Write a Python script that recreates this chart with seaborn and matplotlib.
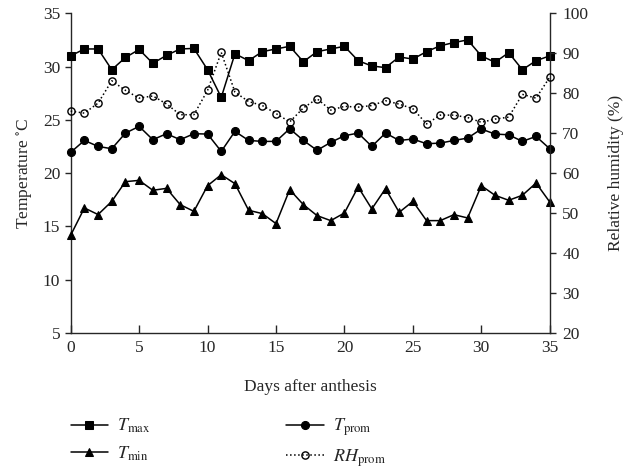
import matplotlib
matplotlib.use("Agg")
import matplotlib.pyplot as plt
import seaborn as sns

# valores
days = list(range(36))
t_max = [31.0, 31.65, 31.65, 29.7, 30.85, 31.6, 30.3, 31.05, 31.65, 31.7,
         29.7, 27.1, 31.2, 30.55, 31.4, 31.65, 31.9, 30.45, 31.4, 31.65,
         31.9, 30.55, 30.05, 29.9, 30.9, 30.7, 31.4, 31.95, 32.25, 32.5,
         31.0, 30.4, 31.3, 29.7, 30.55, 31.0]
t_min = [14.16, 16.72, 16.1, 17.34, 19.19, 19.31, 18.38, 18.56, 17.03, 16.4,
         18.81, 19.84, 19.0, 16.5, 16.19, 15.25, 18.44, 17.03, 16.0, 15.53,
         16.25, 18.69, 16.63, 18.53, 16.31, 17.34, 15.53, 15.53, 16.09, 15.78,
         18.81, 17.91, 17.44, 17.91, 19.06, 17.28]
t_prom = [21.94, 23.06, 22.5, 22.28, 23.75, 24.38, 23.13, 23.69, 23.13, 23.69,
          23.66, 22.03, 23.91, 23.06, 22.97, 22.97, 24.16, 23.06, 22.13, 22.88,
          23.5, 23.75, 22.5, 23.75, 23.06, 23.19, 22.75, 22.81, 23.06, 23.28,
          24.13, 23.66, 23.59, 22.97, 23.44, 22.28]
rh_prom = [75.5, 75.0, 77.5, 83.1, 80.7, 78.75, 79.3, 77.3, 74.6, 74.6,
           80.7, 90.2, 80.25, 77.9, 76.9, 74.9, 72.8, 76.3, 78.6, 75.75,
           76.7, 76.5, 76.9, 78.1, 77.25, 76.1, 72.3, 74.5, 74.5, 73.9,
           72.7, 73.5, 74.0, 79.7, 78.75, 84.0]

sns.set_style("ticks")
plt.rcParams['font.family'] = ['Liberation Serif', 'DejaVu Serif']
plt.rcParams['mathtext.fontset'] = 'stix'

fig = plt.figure(figsize=(6.24, 4.71), dpi=100)
ax = fig.add_axes([0.1133, 0.2935, 0.7677, 0.6783])
ax2 = ax.twinx()

kw = dict(color='black', linewidth=1.1, legend=False)
sns.lineplot(x=days, y=t_max, ax=ax, marker='s', markersize=5.6,
             markeredgecolor='black', clip_on=False, zorder=4, **kw)
sns.lineplot(x=days, y=t_min, ax=ax, marker='^', markersize=5.2,
             markeredgecolor='black', clip_on=False, zorder=4, **kw)
sns.lineplot(x=days, y=t_prom, ax=ax, marker='o', markersize=5.8,
             markeredgecolor='black', clip_on=False, zorder=4, **kw)
sns.lineplot(x=days, y=rh_prom, ax=ax2, marker='o', markersize=5.2,
             markerfacecolor='none', markeredgecolor='black',
             markeredgewidth=1.0, linestyle=':', clip_on=False, zorder=3, **kw)

ax.set_xlim(0, 35)
ax.set_ylim(5, 35)
ax2.set_ylim(20, 100)
ax.set_xticks(range(0, 36, 5))
ax.set_yticks(range(5, 36, 5))
ax2.set_yticks(range(20, 101, 10))

for a in (ax, ax2):
    a.spines['top'].set_visible(False)
    for s in a.spines.values():
        s.set_linewidth(1.0)
ax.spines['right'].set_visible(False)
ax2.spines['left'].set_visible(False)
ax2.spines['bottom'].set_visible(False)

ax.tick_params(axis='x', direction='in', length=5.5, width=1, labelsize=12.5, pad=5)
ax.tick_params(axis='y', direction='out', length=4, width=1, labelsize=12.5)
ax2.tick_params(axis='y', direction='out', length=4, width=1, labelsize=12.5, pad=5)

ax.set_xlabel('Days after anthesis', fontsize=12.5, labelpad=17)
ax.set_ylabel('Temperature $^{\\circ}$C', fontsize=12.5, labelpad=6)
ax2.set_ylabel('Relative humidity (%)', fontsize=12.5, labelpad=14)

handles = [ax.lines[0], ax.lines[1], ax.lines[2], ax2.lines[0]]
labels = [r'$T_{\mathrm{max}}$', r'$T_{\mathrm{min}}$',
          r'$T_{\mathrm{prom}}$', r'$RH_{\mathrm{prom}}$']
fig.legend(handles, labels, ncol=2, loc='upper left',
           bbox_to_anchor=(0.113, 0.115), frameon=False, fontsize=13,
           handlelength=2.1, handletextpad=0.5, columnspacing=7.5,
           labelspacing=0.5, borderaxespad=0, borderpad=0)

fig.savefig('out.png', dpi=100)
